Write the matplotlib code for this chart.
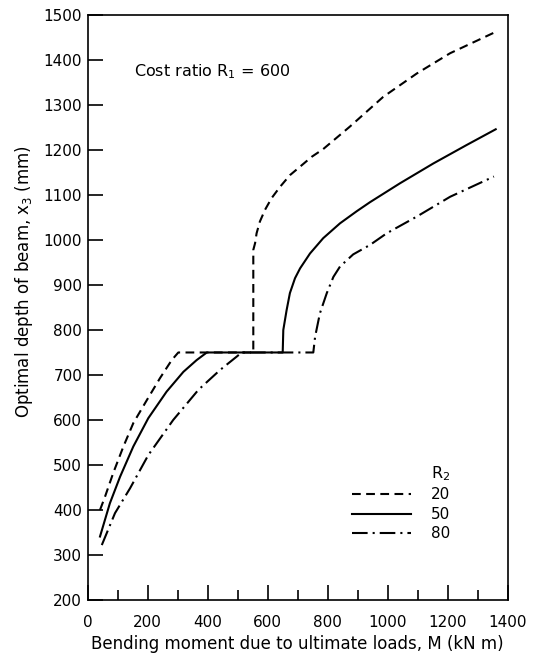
import matplotlib
matplotlib.use("Agg")
import matplotlib.pyplot as plt
from matplotlib.ticker import MultipleLocator

plt.rcParams['font.family'] = ['DejaVu Sans']
plt.rcParams['mathtext.default'] = 'regular'

# optimal depth x3 (mm) against bending moment M (kN m), cost ratio R1 = 600
m_r20 = [41, 58, 85, 119, 152, 197, 241, 280, 302, 552, 552, 558, 563, 574, 591, 613, 641,
         674, 708, 747, 785, 874, 985, 1097, 1208, 1365]
x3_r20 = [400, 430, 482, 541, 593, 644, 693, 733, 750, 750, 978, 993, 1015, 1041, 1067, 1093, 1118,
          1144, 1163, 1185, 1202, 1252, 1318, 1370, 1415, 1464]

m_r50 = [41, 74, 108, 152, 202, 263, 319, 363, 397, 650, 652, 663, 674, 691, 708, 741, 785,
         841, 897, 941, 1041, 1152, 1263, 1360]
x3_r50 = [341, 415, 474, 541, 604, 663, 707, 733, 750, 750, 800, 844, 882, 915, 937, 970, 1004,
          1037, 1064, 1084, 1126, 1170, 1211, 1246]

m_r80 = [47, 91, 141, 202, 285, 369, 441, 497, 513, 752, 758, 774, 797, 819, 841, 885, 941,
         997, 1097, 1208, 1354]
x3_r80 = [322, 393, 448, 522, 600, 667, 711, 741, 750, 750, 785, 837, 882, 918, 941, 968, 989,
          1015, 1052, 1096, 1141]

r2_labels = ['20', '50', '80']

fig = plt.figure(figsize=(5.4, 6.54), dpi=100)
ax = fig.add_axes([0.1624, 0.0826, 0.7778, 0.8945])

lw = 1.5
ax.plot(m_r20, x3_r20, color='black', lw=lw, dashes=(4.2, 2.6), label=r2_labels[0])
ax.plot(m_r50, x3_r50, color='black', lw=lw, label=r2_labels[1])
ax.plot(m_r80, x3_r80, color='black', lw=lw, dashes=(7.5, 2.4, 1.0, 2.4), label=r2_labels[2])

ax.set_xlim(0, 1400)
ax.set_ylim(200, 1500)
ax.xaxis.set_major_locator(MultipleLocator(200))
ax.xaxis.set_minor_locator(MultipleLocator(100))
ax.yaxis.set_major_locator(MultipleLocator(100))
ax.tick_params(axis='x', which='major', direction='in', length=11, width=1.2,
               labelsize=11, pad=10.5)
ax.tick_params(axis='x', which='minor', direction='in', length=7, width=1.2)
ax.tick_params(axis='y', which='major', direction='in', length=11, width=1.2,
               labelsize=11, pad=4)
for s in ax.spines.values():
    s.set_linewidth(1.2)

ax.set_xlabel('Bending moment due to ultimate loads, M (kN m)', fontsize=12, labelpad=4)
ax.set_ylabel('Optimal depth of beam, x$_3$ (mm)', fontsize=12)
ax.yaxis.set_label_coords(-0.125, 0.544)

ax.text(155, 1373, 'Cost ratio R$_1$ = 600', fontsize=11.5, ha='left', va='center')

leg = ax.legend(title='R$_2$', loc='lower right', bbox_to_anchor=(0.882, 0.087),
                frameon=False, fontsize=11, title_fontsize=11.5, handlelength=3.9,
                handletextpad=1.3, labelspacing=0.3, borderpad=0, alignment='right')

fig.savefig('out.png', dpi=100)
